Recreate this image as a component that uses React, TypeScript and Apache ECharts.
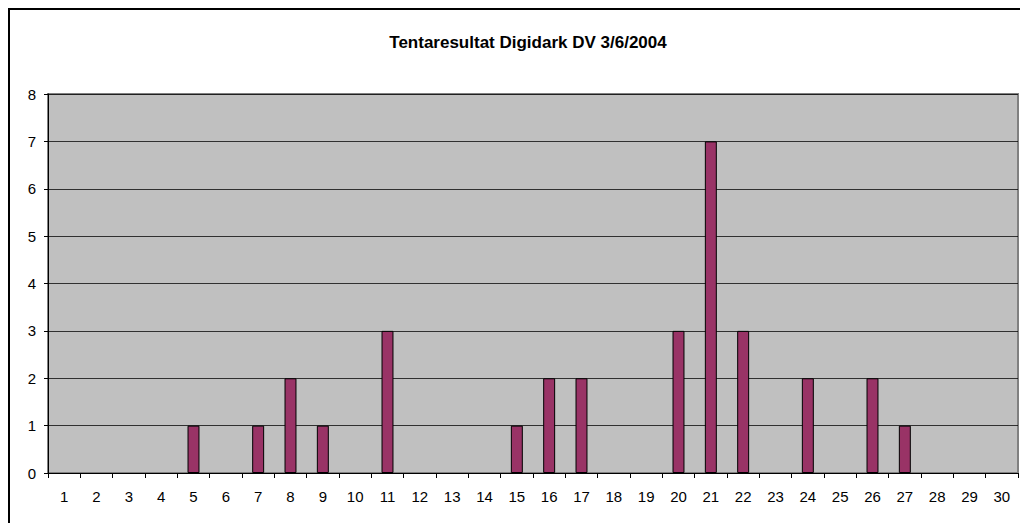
import React, { useEffect, useRef } from "react";
import * as echarts from "echarts";

const categories = Array.from({ length: 30 }, (_, i) => String(i + 1));
const counts: { [k: string]: number } = {
  "5": 1, "7": 1, "8": 2, "9": 1, "11": 3, "15": 1, "16": 2, "17": 2,
  "20": 3, "21": 7, "22": 3, "24": 2, "26": 2, "27": 1,
};
const values = categories.map((c) => counts[c] ?? 0);
const titleText = "Tentaresultat Digidark DV 3/6/2004";

export default function App() {
  const ref = useRef<HTMLDivElement>(null);
  useEffect(() => {
    const chart = echarts.init(ref.current!, null, { renderer: "svg" });
    chart.setOption({
      animation: false,
      backgroundColor: "#ffffff",
      title: {
        text: titleText,
        left: 523,
        textAlign: "center",
        top: 29,
        textStyle: { fontFamily: "Liberation Sans, Arial", fontSize: 17, fontWeight: "bold", color: "#000" },
      },
      graphic: [
        {
          type: "rect",
          shape: { x: 9, y: 9, width: 1100, height: 600 },
          style: { fill: "none", stroke: "#000", lineWidth: 2 },
          silent: true,
        },
        {
          type: "rect",
          shape: { x: 48, y: 94, width: 970, height: 379 },
          style: { fill: "#c0c0c0", stroke: "#808080", lineWidth: 2 },
          silent: true,
          z: -10,
        },
      ],
      grid: { left: 48, right: 2, top: 94, bottom: 50, containLabel: false },
      xAxis: {
        type: "category",
        data: categories,
        boundaryGap: true,
        axisLine: { show: true, lineStyle: { color: "#000", width: 1 } },
        axisTick: { show: true, length: 5, lineStyle: { color: "#000" } },
        axisLabel: { color: "#000", fontSize: 15, fontFamily: "Liberation Sans, Arial", margin: 16 },
        splitLine: { show: false },
      },
      yAxis: {
        type: "value",
        min: 0,
        max: 8,
        interval: 1,
        axisLine: { show: true, lineStyle: { color: "#000", width: 1 } },
        axisTick: { show: true, length: 4, lineStyle: { color: "#000" } },
        axisLabel: { color: "#000", fontSize: 15, fontFamily: "Liberation Sans, Arial", margin: 12 },
        splitLine: { show: true, lineStyle: { color: "#000", width: 1, opacity: 0.75 } },
      },
      series: [
        {
          type: "bar",
          data: values.map((v) => (v === 0 ? { value: 0, itemStyle: { borderWidth: 0, opacity: 0 } } : v)),
          barWidth: "37%",
          itemStyle: { color: "#993366", borderColor: "#000", borderWidth: 1 },
        },
      ],
    });
    return () => chart.dispose();
  }, []);
  return (
    <div
      ref={ref}
      style={{ position: "fixed", left: 0, top: 0, width: 1020, height: 523 }}
    />
  );
}
